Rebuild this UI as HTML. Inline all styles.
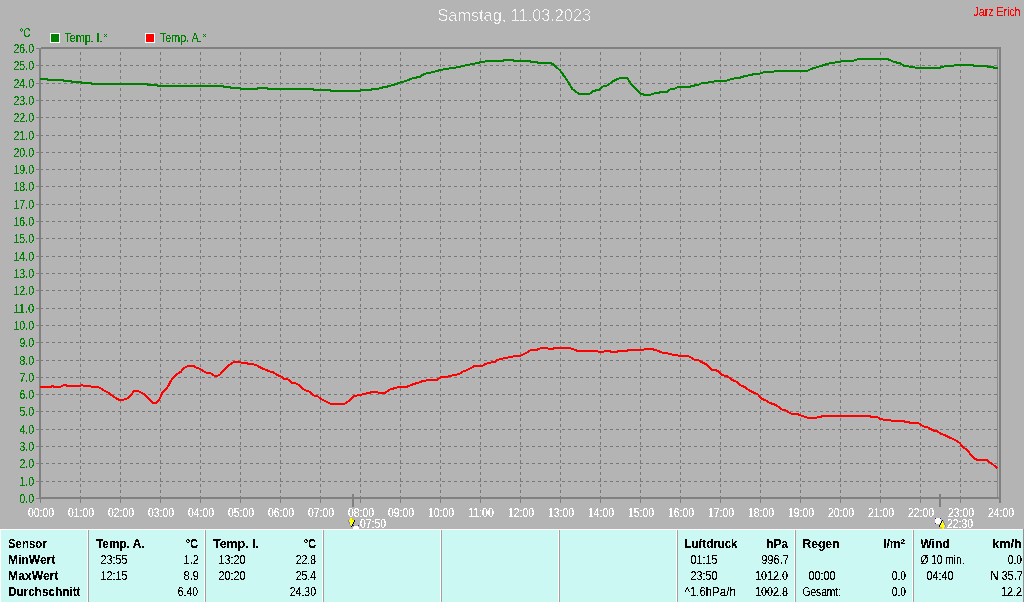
<!DOCTYPE html><html><head><meta charset="utf-8"><style>html,body{margin:0;padding:0;background:#b4b4b4;}svg{display:block;will-change:transform;}text{font-family:"Liberation Sans", sans-serif;}</style></head><body>
<svg width="1024" height="602" viewBox="0 0 1024 602">
<defs><filter id="bin" filterUnits="userSpaceOnUse" x="0" y="0" width="1024" height="602"><feComponentTransfer><feFuncA type="discrete" tableValues="0 0 0 0 0 0 0 0 1 1 1 1 1 1 1 1 1 1 1 1"/></feComponentTransfer></filter><filter id="bint" filterUnits="userSpaceOnUse" x="0" y="0" width="1024" height="602"><feComponentTransfer><feFuncA type="discrete" tableValues="0 0 0 0 0 0 0 1 1 1"/></feComponentTransfer></filter><filter id="binh" filterUnits="userSpaceOnUse" x="0" y="0" width="1024" height="602"><feComponentTransfer><feFuncA type="discrete" tableValues="0 0 0 0 0 1 1 1 1 1"/></feComponentTransfer></filter><filter id="binb" filterUnits="userSpaceOnUse" x="0" y="0" width="1024" height="602"><feComponentTransfer><feFuncA type="discrete" tableValues="0 0 0 0 0 0 0 0 1 1 1 1 1 1 1 1 1 1 1 1"/></feComponentTransfer></filter></defs>
<rect x="0" y="0" width="1024" height="602" fill="#b4b4b4"/>
<text x="437.5" y="21" font-size="17" fill="#f4f4f4" textLength="153.5" lengthAdjust="spacingAndGlyphs" filter="url(#bint)">Samstag, 11.03.2023</text>
<text x="973.5" y="16" font-size="12.5" fill="#ff0000" textLength="47" lengthAdjust="spacingAndGlyphs" filter="url(#bin)">Jarz Erich</text>
<text x="19.5" y="37" font-size="13" fill="#008000" textLength="11" lengthAdjust="spacingAndGlyphs" filter="url(#bin)">°C</text>
<rect x="50" y="33" width="10" height="10" fill="#ffffff"/><rect x="51" y="34" width="8" height="8" fill="#008000"/>
<text x="64.5" y="42" font-size="13" fill="#008000" textLength="38" lengthAdjust="spacingAndGlyphs" filter="url(#bin)">Temp. I.</text>
<g fill="#008000" shape-rendering="crispEdges"><rect x="104" y="34" width="1" height="1"/><rect x="106" y="34" width="1" height="1"/><rect x="105" y="35" width="1" height="1"/><rect x="104" y="36" width="1" height="1"/><rect x="106" y="36" width="1" height="1"/></g>
<rect x="145" y="33" width="10" height="10" fill="#ffffff"/><rect x="146" y="34" width="8" height="8" fill="#ff0000"/>
<text x="160" y="42" font-size="13" fill="#008000" textLength="41.5" lengthAdjust="spacingAndGlyphs" filter="url(#bin)">Temp. A.</text>
<g fill="#008000" shape-rendering="crispEdges"><rect x="203" y="34" width="1" height="1"/><rect x="205" y="34" width="1" height="1"/><rect x="204" y="35" width="1" height="1"/><rect x="203" y="36" width="1" height="1"/><rect x="205" y="36" width="1" height="1"/></g>
<g stroke="#787878" stroke-width="1" stroke-dasharray="3 3" shape-rendering="crispEdges"><line x1="40" y1="481.5" x2="998" y2="481.5"/><line x1="40" y1="463.5" x2="998" y2="463.5"/><line x1="40" y1="446.5" x2="998" y2="446.5"/><line x1="40" y1="429.5" x2="998" y2="429.5"/><line x1="40" y1="411.5" x2="998" y2="411.5"/><line x1="40" y1="394.5" x2="998" y2="394.5"/><line x1="40" y1="377.5" x2="998" y2="377.5"/><line x1="40" y1="360.5" x2="998" y2="360.5"/><line x1="40" y1="342.5" x2="998" y2="342.5"/><line x1="40" y1="325.5" x2="998" y2="325.5"/><line x1="40" y1="308.5" x2="998" y2="308.5"/><line x1="40" y1="290.5" x2="998" y2="290.5"/><line x1="40" y1="273.5" x2="998" y2="273.5"/><line x1="40" y1="256.5" x2="998" y2="256.5"/><line x1="40" y1="238.5" x2="998" y2="238.5"/><line x1="40" y1="221.5" x2="998" y2="221.5"/><line x1="40" y1="204.5" x2="998" y2="204.5"/><line x1="40" y1="186.5" x2="998" y2="186.5"/><line x1="40" y1="169.5" x2="998" y2="169.5"/><line x1="40" y1="152.5" x2="998" y2="152.5"/><line x1="40" y1="135.5" x2="998" y2="135.5"/><line x1="40" y1="117.5" x2="998" y2="117.5"/><line x1="40" y1="100.5" x2="998" y2="100.5"/><line x1="40" y1="83.5" x2="998" y2="83.5"/><line x1="40" y1="65.5" x2="998" y2="65.5"/><line x1="80.5" y1="52" x2="80.5" y2="497"/><line x1="120.5" y1="52" x2="120.5" y2="497"/><line x1="160.5" y1="52" x2="160.5" y2="497"/><line x1="200.5" y1="52" x2="200.5" y2="497"/><line x1="240.5" y1="52" x2="240.5" y2="497"/><line x1="280.5" y1="52" x2="280.5" y2="497"/><line x1="320.5" y1="52" x2="320.5" y2="497"/><line x1="360.5" y1="52" x2="360.5" y2="497"/><line x1="400.5" y1="52" x2="400.5" y2="497"/><line x1="440.5" y1="52" x2="440.5" y2="497"/><line x1="480.5" y1="52" x2="480.5" y2="497"/><line x1="520.5" y1="52" x2="520.5" y2="497"/><line x1="560.5" y1="52" x2="560.5" y2="497"/><line x1="600.5" y1="52" x2="600.5" y2="497"/><line x1="640.5" y1="52" x2="640.5" y2="497"/><line x1="680.5" y1="52" x2="680.5" y2="497"/><line x1="720.5" y1="52" x2="720.5" y2="497"/><line x1="760.5" y1="52" x2="760.5" y2="497"/><line x1="800.5" y1="52" x2="800.5" y2="497"/><line x1="840.5" y1="52" x2="840.5" y2="497"/><line x1="880.5" y1="52" x2="880.5" y2="497"/><line x1="920.5" y1="52" x2="920.5" y2="497"/><line x1="960.5" y1="52" x2="960.5" y2="497"/></g>
<g shape-rendering="crispEdges"><rect x="41" y="47" width="960" height="2" fill="#808080"/><rect x="39" y="48" width="2" height="451" fill="#808080"/><rect x="40" y="499" width="1" height="4" fill="#808080"/><rect x="39" y="497" width="962" height="2" fill="#808080"/><rect x="999" y="47" width="2" height="456" fill="#808080"/><rect x="997" y="49" width="1" height="448" fill="#8c8c8c"/><rect x="36" y="498" width="4" height="1" fill="#808080"/><rect x="36" y="481" width="4" height="1" fill="#808080"/><rect x="36" y="463" width="4" height="1" fill="#808080"/><rect x="36" y="446" width="4" height="1" fill="#808080"/><rect x="36" y="429" width="4" height="1" fill="#808080"/><rect x="36" y="411" width="4" height="1" fill="#808080"/><rect x="36" y="394" width="4" height="1" fill="#808080"/><rect x="36" y="377" width="4" height="1" fill="#808080"/><rect x="36" y="360" width="4" height="1" fill="#808080"/><rect x="36" y="342" width="4" height="1" fill="#808080"/><rect x="36" y="325" width="4" height="1" fill="#808080"/><rect x="36" y="308" width="4" height="1" fill="#808080"/><rect x="36" y="290" width="4" height="1" fill="#808080"/><rect x="36" y="273" width="4" height="1" fill="#808080"/><rect x="36" y="256" width="4" height="1" fill="#808080"/><rect x="36" y="238" width="4" height="1" fill="#808080"/><rect x="36" y="221" width="4" height="1" fill="#808080"/><rect x="36" y="204" width="4" height="1" fill="#808080"/><rect x="36" y="186" width="4" height="1" fill="#808080"/><rect x="36" y="169" width="4" height="1" fill="#808080"/><rect x="36" y="152" width="4" height="1" fill="#808080"/><rect x="36" y="135" width="4" height="1" fill="#808080"/><rect x="36" y="117" width="4" height="1" fill="#808080"/><rect x="36" y="100" width="4" height="1" fill="#808080"/><rect x="36" y="83" width="4" height="1" fill="#808080"/><rect x="36" y="65" width="4" height="1" fill="#808080"/><rect x="36" y="48" width="4" height="1" fill="#808080"/><rect x="80" y="499" width="1" height="4" fill="#808080"/><rect x="120" y="499" width="1" height="4" fill="#808080"/><rect x="160" y="499" width="1" height="4" fill="#808080"/><rect x="200" y="499" width="1" height="4" fill="#808080"/><rect x="240" y="499" width="1" height="4" fill="#808080"/><rect x="280" y="499" width="1" height="4" fill="#808080"/><rect x="320" y="499" width="1" height="4" fill="#808080"/><rect x="360" y="499" width="1" height="4" fill="#808080"/><rect x="400" y="499" width="1" height="4" fill="#808080"/><rect x="440" y="499" width="1" height="4" fill="#808080"/><rect x="480" y="499" width="1" height="4" fill="#808080"/><rect x="520" y="499" width="1" height="4" fill="#808080"/><rect x="560" y="499" width="1" height="4" fill="#808080"/><rect x="600" y="499" width="1" height="4" fill="#808080"/><rect x="640" y="499" width="1" height="4" fill="#808080"/><rect x="680" y="499" width="1" height="4" fill="#808080"/><rect x="720" y="499" width="1" height="4" fill="#808080"/><rect x="760" y="499" width="1" height="4" fill="#808080"/><rect x="800" y="499" width="1" height="4" fill="#808080"/><rect x="840" y="499" width="1" height="4" fill="#808080"/><rect x="880" y="499" width="1" height="4" fill="#808080"/><rect x="920" y="499" width="1" height="4" fill="#808080"/><rect x="960" y="499" width="1" height="4" fill="#808080"/><rect x="352" y="494" width="2" height="13" fill="#808080"/><rect x="939" y="494" width="2" height="13" fill="#808080"/></g>
<text x="34" y="503" font-size="12.8" fill="#008000" text-anchor="end" textLength="14.5" lengthAdjust="spacingAndGlyphs" filter="url(#bin)">0.0</text>
<text x="34" y="486" font-size="12.8" fill="#008000" text-anchor="end" textLength="14.5" lengthAdjust="spacingAndGlyphs" filter="url(#bin)">1.0</text>
<text x="34" y="468" font-size="12.8" fill="#008000" text-anchor="end" textLength="14.5" lengthAdjust="spacingAndGlyphs" filter="url(#bin)">2.0</text>
<text x="34" y="451" font-size="12.8" fill="#008000" text-anchor="end" textLength="14.5" lengthAdjust="spacingAndGlyphs" filter="url(#bin)">3.0</text>
<text x="34" y="434" font-size="12.8" fill="#008000" text-anchor="end" textLength="14.5" lengthAdjust="spacingAndGlyphs" filter="url(#bin)">4.0</text>
<text x="34" y="416" font-size="12.8" fill="#008000" text-anchor="end" textLength="14.5" lengthAdjust="spacingAndGlyphs" filter="url(#bin)">5.0</text>
<text x="34" y="399" font-size="12.8" fill="#008000" text-anchor="end" textLength="14.5" lengthAdjust="spacingAndGlyphs" filter="url(#bin)">6.0</text>
<text x="34" y="382" font-size="12.8" fill="#008000" text-anchor="end" textLength="14.5" lengthAdjust="spacingAndGlyphs" filter="url(#bin)">7.0</text>
<text x="34" y="365" font-size="12.8" fill="#008000" text-anchor="end" textLength="14.5" lengthAdjust="spacingAndGlyphs" filter="url(#bin)">8.0</text>
<text x="34" y="347" font-size="12.8" fill="#008000" text-anchor="end" textLength="14.5" lengthAdjust="spacingAndGlyphs" filter="url(#bin)">9.0</text>
<text x="34" y="330" font-size="12.8" fill="#008000" text-anchor="end" textLength="20.5" lengthAdjust="spacingAndGlyphs" filter="url(#bin)">10.0</text>
<text x="34" y="313" font-size="12.8" fill="#008000" text-anchor="end" textLength="20.5" lengthAdjust="spacingAndGlyphs" filter="url(#bin)">11.0</text>
<text x="34" y="295" font-size="12.8" fill="#008000" text-anchor="end" textLength="20.5" lengthAdjust="spacingAndGlyphs" filter="url(#bin)">12.0</text>
<text x="34" y="278" font-size="12.8" fill="#008000" text-anchor="end" textLength="20.5" lengthAdjust="spacingAndGlyphs" filter="url(#bin)">13.0</text>
<text x="34" y="261" font-size="12.8" fill="#008000" text-anchor="end" textLength="20.5" lengthAdjust="spacingAndGlyphs" filter="url(#bin)">14.0</text>
<text x="34" y="243" font-size="12.8" fill="#008000" text-anchor="end" textLength="20.5" lengthAdjust="spacingAndGlyphs" filter="url(#bin)">15.0</text>
<text x="34" y="226" font-size="12.8" fill="#008000" text-anchor="end" textLength="20.5" lengthAdjust="spacingAndGlyphs" filter="url(#bin)">16.0</text>
<text x="34" y="209" font-size="12.8" fill="#008000" text-anchor="end" textLength="20.5" lengthAdjust="spacingAndGlyphs" filter="url(#bin)">17.0</text>
<text x="34" y="191" font-size="12.8" fill="#008000" text-anchor="end" textLength="20.5" lengthAdjust="spacingAndGlyphs" filter="url(#bin)">18.0</text>
<text x="34" y="174" font-size="12.8" fill="#008000" text-anchor="end" textLength="20.5" lengthAdjust="spacingAndGlyphs" filter="url(#bin)">19.0</text>
<text x="34" y="157" font-size="12.8" fill="#008000" text-anchor="end" textLength="20.5" lengthAdjust="spacingAndGlyphs" filter="url(#bin)">20.0</text>
<text x="34" y="140" font-size="12.8" fill="#008000" text-anchor="end" textLength="20.5" lengthAdjust="spacingAndGlyphs" filter="url(#bin)">21.0</text>
<text x="34" y="122" font-size="12.8" fill="#008000" text-anchor="end" textLength="20.5" lengthAdjust="spacingAndGlyphs" filter="url(#bin)">22.0</text>
<text x="34" y="105" font-size="12.8" fill="#008000" text-anchor="end" textLength="20.5" lengthAdjust="spacingAndGlyphs" filter="url(#bin)">23.0</text>
<text x="34" y="88" font-size="12.8" fill="#008000" text-anchor="end" textLength="20.5" lengthAdjust="spacingAndGlyphs" filter="url(#bin)">24.0</text>
<text x="34" y="70" font-size="12.8" fill="#008000" text-anchor="end" textLength="20.5" lengthAdjust="spacingAndGlyphs" filter="url(#bin)">25.0</text>
<text x="34" y="53" font-size="12.8" fill="#008000" text-anchor="end" textLength="20.5" lengthAdjust="spacingAndGlyphs" filter="url(#bin)">26.0</text>
<text x="41" y="517" font-size="12.8" fill="#ffffff" text-anchor="middle" textLength="26" lengthAdjust="spacingAndGlyphs" filter="url(#bin)">00:00</text>
<text x="81" y="517" font-size="12.8" fill="#ffffff" text-anchor="middle" textLength="26" lengthAdjust="spacingAndGlyphs" filter="url(#bin)">01:00</text>
<text x="121" y="517" font-size="12.8" fill="#ffffff" text-anchor="middle" textLength="26" lengthAdjust="spacingAndGlyphs" filter="url(#bin)">02:00</text>
<text x="161" y="517" font-size="12.8" fill="#ffffff" text-anchor="middle" textLength="26" lengthAdjust="spacingAndGlyphs" filter="url(#bin)">03:00</text>
<text x="201" y="517" font-size="12.8" fill="#ffffff" text-anchor="middle" textLength="26" lengthAdjust="spacingAndGlyphs" filter="url(#bin)">04:00</text>
<text x="241" y="517" font-size="12.8" fill="#ffffff" text-anchor="middle" textLength="26" lengthAdjust="spacingAndGlyphs" filter="url(#bin)">05:00</text>
<text x="281" y="517" font-size="12.8" fill="#ffffff" text-anchor="middle" textLength="26" lengthAdjust="spacingAndGlyphs" filter="url(#bin)">06:00</text>
<text x="321" y="517" font-size="12.8" fill="#ffffff" text-anchor="middle" textLength="26" lengthAdjust="spacingAndGlyphs" filter="url(#bin)">07:00</text>
<text x="361" y="517" font-size="12.8" fill="#ffffff" text-anchor="middle" textLength="26" lengthAdjust="spacingAndGlyphs" filter="url(#bin)">08:00</text>
<text x="401" y="517" font-size="12.8" fill="#ffffff" text-anchor="middle" textLength="26" lengthAdjust="spacingAndGlyphs" filter="url(#bin)">09:00</text>
<text x="441" y="517" font-size="12.8" fill="#ffffff" text-anchor="middle" textLength="26" lengthAdjust="spacingAndGlyphs" filter="url(#bin)">10:00</text>
<text x="481" y="517" font-size="12.8" fill="#ffffff" text-anchor="middle" textLength="26" lengthAdjust="spacingAndGlyphs" filter="url(#bin)">11:00</text>
<text x="521" y="517" font-size="12.8" fill="#ffffff" text-anchor="middle" textLength="26" lengthAdjust="spacingAndGlyphs" filter="url(#bin)">12:00</text>
<text x="561" y="517" font-size="12.8" fill="#ffffff" text-anchor="middle" textLength="26" lengthAdjust="spacingAndGlyphs" filter="url(#bin)">13:00</text>
<text x="601" y="517" font-size="12.8" fill="#ffffff" text-anchor="middle" textLength="26" lengthAdjust="spacingAndGlyphs" filter="url(#bin)">14:00</text>
<text x="641" y="517" font-size="12.8" fill="#ffffff" text-anchor="middle" textLength="26" lengthAdjust="spacingAndGlyphs" filter="url(#bin)">15:00</text>
<text x="681" y="517" font-size="12.8" fill="#ffffff" text-anchor="middle" textLength="26" lengthAdjust="spacingAndGlyphs" filter="url(#bin)">16:00</text>
<text x="721" y="517" font-size="12.8" fill="#ffffff" text-anchor="middle" textLength="26" lengthAdjust="spacingAndGlyphs" filter="url(#bin)">17:00</text>
<text x="761" y="517" font-size="12.8" fill="#ffffff" text-anchor="middle" textLength="26" lengthAdjust="spacingAndGlyphs" filter="url(#bin)">18:00</text>
<text x="801" y="517" font-size="12.8" fill="#ffffff" text-anchor="middle" textLength="26" lengthAdjust="spacingAndGlyphs" filter="url(#bin)">19:00</text>
<text x="841" y="517" font-size="12.8" fill="#ffffff" text-anchor="middle" textLength="26" lengthAdjust="spacingAndGlyphs" filter="url(#bin)">20:00</text>
<text x="881" y="517" font-size="12.8" fill="#ffffff" text-anchor="middle" textLength="26" lengthAdjust="spacingAndGlyphs" filter="url(#bin)">21:00</text>
<text x="921" y="517" font-size="12.8" fill="#ffffff" text-anchor="middle" textLength="26" lengthAdjust="spacingAndGlyphs" filter="url(#bin)">22:00</text>
<text x="961" y="517" font-size="12.8" fill="#ffffff" text-anchor="middle" textLength="26" lengthAdjust="spacingAndGlyphs" filter="url(#bin)">23:00</text>
<text x="1001" y="517" font-size="12.8" fill="#ffffff" text-anchor="middle" textLength="26" lengthAdjust="spacingAndGlyphs" filter="url(#bin)">24:00</text>
<text x="360" y="528" font-size="12.8" fill="#ffffff" textLength="26" lengthAdjust="spacingAndGlyphs" filter="url(#bin)">07:50</text>
<text x="947" y="528" font-size="12.8" fill="#ffffff" textLength="26" lengthAdjust="spacingAndGlyphs" filter="url(#bin)">22:30</text>
<polyline fill="none" stroke="#008000" stroke-width="2" stroke-linejoin="round" shape-rendering="crispEdges" points="40,78.9 47,78.9 48,79.9 63,79.9 64,80.8 71,80.8 72,81.8 81,81.8 82,82.8 91,82.8 92,83.9 147,83.9 148,85 157,85 158,86 223,86 224,86.9 230,86.9 231,87.9 240,87.9 241,88.9 257,88.9 258,87.9 267,87.9 268,88.9 313,88.9 314,89.75 330,89.75 331,90.75 360,90.75 361,89.75 371,89.75 372,88.75 378,88.75 382,87.6 388,86.4 394,84.75 400,82.6 406,81 412,78.5 420,76.75 424,74 432,72.25 440,70.1 446,68.9 456,67.6 464,65.75 472,64.1 480,62.4 488,60.9 503,60.9 504,59.8 513,59.8 514,60.8 530,60.8 531,61.8 537,61.8 538,62.8 550,62.8 553.5,64.5 560.4,70.75 564.75,77 568.5,82.6 572.25,88.9 578.5,93.6 589.75,93.6 593.5,91 599.75,89.5 603.5,86 607.25,85.5 612.25,81.75 617.25,79.25 621,77.9 627.25,77.9 631,83.9 640.4,93.6 644.75,94.9 650.4,94.9 652.25,93.6 657.25,93.25 661,92 667.25,92 669.75,89.5 674.75,88.5 678.5,86.75 690,87 691,86 694,86 695,85 698.5,85 699.5,84 700.5,84 701.5,83 707.5,83 708.5,82 713.5,82 714.5,81 726.5,81 727.5,80 729.5,80 730.5,79 733.5,79 734.5,78 740,78 741,77 743,77 744,76 747.5,76 748.5,75 752,75 754,73.75 760.4,73.5 764,72 773.5,72 774.75,70.9 807.25,70.9 811,69 816,67.5 821,66 824.75,64.75 829,63.5 833.5,62.75 838.5,61.9 844,60.9 853.5,60.9 854.75,59.75 861,59 887,59 890.7,60.4 895,62.3 900,63 903.7,65.6 911,66.8 917.4,67.9 940,68 941,67 943.5,67 944.5,66 953.5,66 954.5,65 973,65 974,66 987,66 988,67 993,67 994,68 998,68"/>
<polyline fill="none" stroke="#ff0000" stroke-width="2" stroke-linejoin="round" shape-rendering="crispEdges" points="40.4,386.9 51,386.9 52.25,385.9 54,386.9 60.4,386.9 61.6,385.9 64.75,385 67.9,385.9 80.4,385.9 82.25,385 84,385.9 89.75,385.9 91.6,386.75 97.25,386.75 100.4,388.1 104,390.4 108.5,392.75 112.25,395.6 116,398.1 119,399.75 123.5,399.75 126.6,398.75 129,397.5 132.9,392.5 134.75,390.6 137.9,390.6 139.75,391.9 142.9,393.5 146,395.6 149.75,399.4 152.9,403.5 155.4,403.1 157.9,401.25 160.4,397.5 162.25,392.5 167.25,387.5 169.75,383.1 172.25,378.5 174.75,376 178.5,373.1 181,371.9 182.9,368.75 186,366.9 188.5,365.9 193.5,365.9 197.25,368.1 200.4,369 203.5,371.25 206,372.5 209.75,372.5 213.5,375.4 217.25,376 219.75,374.75 223.5,370.6 228.5,365.6 232.25,362.9 234.75,362 239.75,362 242.25,362.9 246.6,362.9 248.5,364 256,364.75 259.75,367.25 264.75,369.4 268.5,371 272.9,372.25 277.25,375 281,376.5 283.5,378.5 287.25,379 292.25,382.9 297.25,383.75 303.5,389.4 309.75,391.9 314.1,395.6 317.25,396 321,399 326,401.6 330.4,403.75 344.75,403.75 348.5,401.25 353.5,396.25 358.5,395.25 363.5,394.1 369.75,392.75 372.25,391.9 377.25,391.9 378.5,393 384.75,393 389.75,389.6 394.75,388.1 399.75,386.6 407.25,386.6 409.75,385.6 414.75,383.75 419.75,382.25 422.9,381 428.5,380 437.25,380 441,376.9 447.25,376.9 449.75,376 454.75,375 459.75,373.75 462.25,371.9 467.25,370 471,368.1 474.75,365.9 482.25,365.9 486,363.75 491,362.5 494.75,361.9 497.25,360 502.25,358.75 506,357.75 511,357.25 514.75,356 520.4,355.9 522.25,354.75 526,353.1 529.1,351 531.6,349.75 537.25,349.75 538.5,349 541.6,347.9 547.25,347.9 548.5,349 553.5,349 554.1,347.9 569.75,347.9 573.5,349.4 577.25,350.75 597.25,350.75 598.5,351.9 603.5,351.9 604.75,350.75 610.4,350.75 611,351.9 617.25,351.9 617.9,350.75 627.25,350.75 627.9,349.75 643.5,350 644.75,349 652.9,349 654.1,350 657.9,350.6 661.6,352.5 666.6,352.75 669.75,354.4 676,354.75 678.5,355.6 683.5,356 689.75,356.6 693.5,359.4 698.5,360.25 702.25,362.5 707.25,365 712.25,370 717.25,370.6 722.25,375 727.25,376.25 732.25,380 737.25,381.9 741,385.6 744.75,386.9 748.5,390 753.5,392.5 757.25,394 758.5,395 761.6,398.5 766,400.6 769.75,403.1 773.5,404 777.25,406 782.25,409.75 786.6,410.6 790.4,413.5 797.25,414 799.75,415 803.5,416.25 807.25,417.5 817.25,417.5 818.5,416.9 823.5,416.25 824.75,415.6 869.75,415.6 871,416.9 877.25,416.9 879.3,418.6 884,419.7 890,419.9 891.3,420.6 903.3,420.6 904.6,421.7 910,422.6 917.2,422.6 919.9,423.9 923.2,426.3 928.5,427.7 932.5,430.3 937.2,431.25 941.2,433.9 946.5,435.9 950.5,437.9 955.8,440.3 959.8,443.2 963.8,447.9 967.8,450.3 970.4,454.5 974.4,458.5 977.1,459.8 986.4,459.8 989,461.8 993,464.5 997,468.1"/>
<g shape-rendering="crispEdges"><rect x="350" y="518" width="2" height="2" fill="#ffff00"/><rect x="352" y="518" width="1" height="2" fill="#c8c800"/><rect x="349" y="520" width="5" height="3" fill="#ffff00"/><rect x="354" y="520" width="1" height="2" fill="#000000"/><rect x="353" y="522" width="1" height="2" fill="#000000"/><rect x="348" y="520" width="1" height="2" fill="#7880e8"/><rect x="349" y="522" width="1" height="2" fill="#7880e8"/><rect x="350" y="524" width="1" height="2" fill="#7880e8"/><rect x="350" y="523" width="3" height="1" fill="#ffff00"/><rect x="350" y="524" width="2" height="1" fill="#ffff00"/><rect x="352" y="524" width="1" height="2" fill="#000000"/><rect x="351" y="525" width="1" height="1" fill="#ffff00"/><rect x="351" y="526" width="1" height="1" fill="#000000"/><rect x="353" y="525" width="1" height="1" fill="#2020a0"/><rect x="358" y="525" width="1" height="1" fill="#2020a0"/><rect x="354" y="526" width="4" height="1" fill="#ffffff"/><rect x="353" y="527" width="6" height="2" fill="#ffffff"/><rect x="936" y="518" width="4" height="1" fill="#ffffff"/><rect x="935" y="519" width="6" height="4" fill="#ffffff"/><rect x="936" y="523" width="4" height="1" fill="#ffffff"/><rect x="935" y="518" width="1" height="1" fill="#2020a0"/><rect x="940" y="518" width="1" height="1" fill="#2020a0"/><rect x="935" y="523" width="1" height="1" fill="#2020a0"/><rect x="942" y="520" width="1" height="1" fill="#000000"/><rect x="941" y="521" width="1" height="2" fill="#000000"/><rect x="940" y="523" width="1" height="2" fill="#000000"/><rect x="939" y="525" width="1" height="2" fill="#000000"/><rect x="942" y="521" width="1" height="2" fill="#ffff00"/><rect x="941" y="523" width="3" height="2" fill="#ffff00"/><rect x="940" y="525" width="5" height="2" fill="#ffff00"/><rect x="942" y="527" width="2" height="2" fill="#ffff00"/><rect x="941" y="527" width="1" height="2" fill="#c8c800"/><rect x="943" y="521" width="1" height="2" fill="#7880e8"/><rect x="944" y="523" width="1" height="2" fill="#7880e8"/><rect x="945" y="525" width="1" height="2" fill="#7880e8"/></g>
<rect x="0" y="529" width="1024" height="73" fill="#ccf8f4"/>
<g shape-rendering="crispEdges"><rect x="0" y="529" width="1023" height="1" fill="#ffffff"/><rect x="0" y="529" width="1" height="73" fill="#ffffff"/><rect x="1023" y="529" width="1" height="73" fill="#909090"/><rect x="87" y="530" width="1" height="72" fill="#ffffff"/><rect x="88" y="530" width="1" height="72" fill="#a0a0a0"/><rect x="204" y="530" width="1" height="72" fill="#ffffff"/><rect x="205" y="530" width="1" height="72" fill="#a0a0a0"/><rect x="322" y="530" width="1" height="72" fill="#ffffff"/><rect x="323" y="530" width="1" height="72" fill="#a0a0a0"/><rect x="440" y="530" width="1" height="72" fill="#ffffff"/><rect x="441" y="530" width="1" height="72" fill="#a0a0a0"/><rect x="558" y="530" width="1" height="72" fill="#ffffff"/><rect x="559" y="530" width="1" height="72" fill="#a0a0a0"/><rect x="676" y="530" width="1" height="72" fill="#ffffff"/><rect x="677" y="530" width="1" height="72" fill="#a0a0a0"/><rect x="794" y="530" width="1" height="72" fill="#ffffff"/><rect x="795" y="530" width="1" height="72" fill="#a0a0a0"/><rect x="912" y="530" width="1" height="72" fill="#ffffff"/><rect x="913" y="530" width="1" height="72" fill="#a0a0a0"/></g>
<text x="8" y="548" font-size="12.8" fill="#000000" textLength="38.7" lengthAdjust="spacingAndGlyphs" font-weight="bold" filter="url(#binb)">Sensor</text>
<text x="8" y="564" font-size="12.8" fill="#000000" textLength="47.5" lengthAdjust="spacingAndGlyphs" font-weight="bold" filter="url(#binb)">MinWert</text>
<text x="8" y="580" font-size="12.8" fill="#000000" textLength="50.5" lengthAdjust="spacingAndGlyphs" font-weight="bold" filter="url(#binb)">MaxWert</text>
<text x="8" y="596" font-size="12.8" fill="#000000" textLength="72.5" lengthAdjust="spacingAndGlyphs" font-weight="bold" filter="url(#binb)">Durchschnitt</text>
<text x="96" y="548" font-size="12.8" fill="#000000" textLength="48.7" lengthAdjust="spacingAndGlyphs" font-weight="bold" filter="url(#binb)">Temp. A.</text>
<text x="198" y="548" font-size="12.8" fill="#000000" text-anchor="end" textLength="12.2" lengthAdjust="spacingAndGlyphs" font-weight="bold" filter="url(#binb)">°C</text>
<text x="100.5" y="564" font-size="12.8" fill="#000000" textLength="27.0" lengthAdjust="spacingAndGlyphs" filter="url(#bin)">23:55</text>
<text x="199" y="564" font-size="12.8" fill="#000000" text-anchor="end" textLength="15.5" lengthAdjust="spacingAndGlyphs" filter="url(#bin)">1.2</text>
<text x="100.5" y="580" font-size="12.8" fill="#000000" textLength="27.0" lengthAdjust="spacingAndGlyphs" filter="url(#bin)">12:15</text>
<text x="199" y="580" font-size="12.8" fill="#000000" text-anchor="end" textLength="15.5" lengthAdjust="spacingAndGlyphs" filter="url(#bin)">8.9</text>
<text x="198" y="596" font-size="12.8" fill="#000000" text-anchor="end" textLength="20.2" lengthAdjust="spacingAndGlyphs" filter="url(#bin)">6.40</text>
<text x="213" y="548" font-size="12.8" fill="#000000" textLength="46.0" lengthAdjust="spacingAndGlyphs" font-weight="bold" filter="url(#binb)">Temp. I.</text>
<text x="316" y="548" font-size="12.8" fill="#000000" text-anchor="end" textLength="12.2" lengthAdjust="spacingAndGlyphs" font-weight="bold" filter="url(#binb)">°C</text>
<text x="218.5" y="564" font-size="12.8" fill="#000000" textLength="27.0" lengthAdjust="spacingAndGlyphs" filter="url(#bin)">13:20</text>
<text x="316" y="564" font-size="12.8" fill="#000000" text-anchor="end" textLength="20.2" lengthAdjust="spacingAndGlyphs" filter="url(#bin)">22.8</text>
<text x="218.5" y="580" font-size="12.8" fill="#000000" textLength="27.0" lengthAdjust="spacingAndGlyphs" filter="url(#bin)">20:20</text>
<text x="316" y="580" font-size="12.8" fill="#000000" text-anchor="end" textLength="20.2" lengthAdjust="spacingAndGlyphs" filter="url(#bin)">25.4</text>
<text x="316" y="596" font-size="12.8" fill="#000000" text-anchor="end" textLength="26.2" lengthAdjust="spacingAndGlyphs" filter="url(#bin)">24.30</text>
<text x="684.5" y="548" font-size="12.8" fill="#000000" textLength="53.0" lengthAdjust="spacingAndGlyphs" font-weight="bold" filter="url(#binb)">Luftdruck</text>
<text x="788" y="548" font-size="12.8" fill="#000000" text-anchor="end" textLength="21.5" lengthAdjust="spacingAndGlyphs" font-weight="bold" filter="url(#binb)">hPa</text>
<text x="690.5" y="564" font-size="12.8" fill="#000000" textLength="27.0" lengthAdjust="spacingAndGlyphs" filter="url(#bin)">01:15</text>
<text x="789" y="564" font-size="12.8" fill="#000000" text-anchor="end" textLength="27.8" lengthAdjust="spacingAndGlyphs" filter="url(#bin)">996.7</text>
<text x="690.5" y="580" font-size="12.8" fill="#000000" textLength="27.0" lengthAdjust="spacingAndGlyphs" filter="url(#bin)">23:50</text>
<text x="788" y="580" font-size="12.8" fill="#000000" text-anchor="end" textLength="33.0" lengthAdjust="spacingAndGlyphs" filter="url(#bin)">1012.0</text>
<text x="684.5" y="596" font-size="12.8" fill="#000000" textLength="51.3" lengthAdjust="spacingAndGlyphs" filter="url(#bin)">^1.6hPa/h</text>
<text x="788" y="596" font-size="12.8" fill="#000000" text-anchor="end" textLength="33.0" lengthAdjust="spacingAndGlyphs" filter="url(#bin)">1002.8</text>
<text x="802.5" y="548" font-size="12.8" fill="#000000" textLength="37.0" lengthAdjust="spacingAndGlyphs" font-weight="bold" filter="url(#binb)">Regen</text>
<text x="905" y="548" font-size="12.8" fill="#000000" text-anchor="end" textLength="22.0" lengthAdjust="spacingAndGlyphs" font-weight="bold" filter="url(#binb)">l/m²</text>
<text x="808.5" y="580" font-size="12.8" fill="#000000" textLength="27.0" lengthAdjust="spacingAndGlyphs" filter="url(#bin)">00:00</text>
<text x="906" y="580" font-size="12.8" fill="#000000" text-anchor="end" textLength="14.2" lengthAdjust="spacingAndGlyphs" filter="url(#bin)">0.0</text>
<text x="802.5" y="596" font-size="12.8" fill="#000000" textLength="38.5" lengthAdjust="spacingAndGlyphs" filter="url(#bin)">Gesamt:</text>
<text x="906" y="596" font-size="12.8" fill="#000000" text-anchor="end" textLength="14.2" lengthAdjust="spacingAndGlyphs" filter="url(#bin)">0.0</text>
<text x="920.5" y="548" font-size="12.8" fill="#000000" textLength="29.0" lengthAdjust="spacingAndGlyphs" font-weight="bold" filter="url(#binb)">Wind</text>
<text x="1022" y="548" font-size="12.8" fill="#000000" text-anchor="end" textLength="30.1" lengthAdjust="spacingAndGlyphs" font-weight="bold" filter="url(#binb)">km/h</text>
<text x="920.5" y="564" font-size="12.8" fill="#000000" textLength="44.0" lengthAdjust="spacingAndGlyphs" filter="url(#bin)">Ø 10 min.</text>
<text x="1022" y="564" font-size="12.8" fill="#000000" text-anchor="end" textLength="14.2" lengthAdjust="spacingAndGlyphs" filter="url(#bin)">0.0</text>
<text x="926.5" y="580" font-size="12.8" fill="#000000" textLength="27.0" lengthAdjust="spacingAndGlyphs" filter="url(#bin)">04:40</text>
<text x="1023" y="580" font-size="12.8" fill="#000000" text-anchor="end" textLength="32.6" lengthAdjust="spacingAndGlyphs" filter="url(#bin)">N 35.7</text>
<text x="1022" y="596" font-size="12.8" fill="#000000" text-anchor="end" textLength="21.0" lengthAdjust="spacingAndGlyphs" filter="url(#bin)">12.2</text>
</svg></body></html>
